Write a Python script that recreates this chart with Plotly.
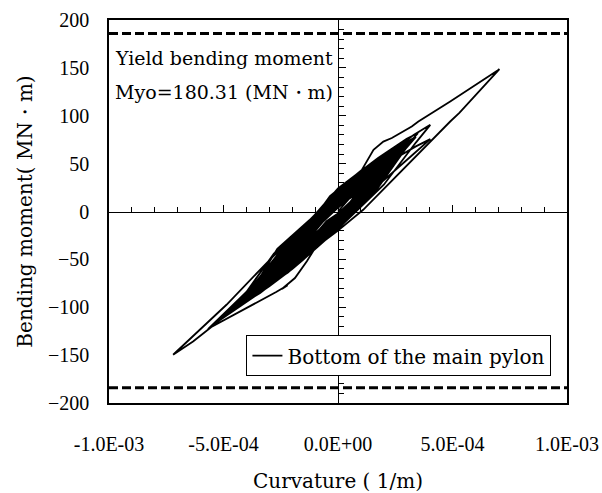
import numpy as np
import plotly.graph_objects as go

# Hysteresis path:
# curvature in units of 1e-4 (1/m), bending moment in MN·m (one row per half-cycle)
curvature_e4 = [
    0, 0.8, 1.6,
    0.8, 0, -1.1, -2.2,
    -1.1, 0, 1.3, 2.6,
    1.3, 0, -1.65, -3.3,
    -1.65, 0, 1.7, 3.4,
    1.7, 0, -2.1, -4.2,
    -2.1, 0, 2.0, 3.3, 4.03,
    3.4, 2.0, 0, -1.5, -3.4, -4.8, -5.68,
    -4.0, -2.8, -1.4, 0, 1.75, 3.0, 3.5,
    2.0, 1.0, 0, -0.92, -1.36, -1.88, -2.45, -2.2, -2.7, -5.53, -6.33, -7.2,
    -4.87, -2.98, -0.8, 0, 1.6, 2.4, 3.4, 4.03,
    3.2, 1.5, 0, -2.4, -4.8,
    -3.2, -1.5, -0.35, 1.04, 1.55, 1.98, 2.35, 3.22, 3.51, 4.9, 7.05,
    5.5, 5.3, 4.9, 1.1, 0, -1.0, -1.5, -2.0, -3.0, -4.2, -5.2,
    -3.8, -2.6, -1.3, 0, 1.65, 3.3,
    1.65, 0, -2.25, -4.5,
    -2.25, 0, 1.5, 3.0,
    1.5, 0, -2.5, -3.8, -5.0,
    -3.4, -2.5, -1.25, 0, 1.3, 2.6,
    1.3, 0, -2.0, -4.0,
    -2.0, -1.0, 0, 1.6, 3.2,
    1.6, 0, -2.3, -3.5, -4.6,
    -2.3, 0, 1.2, 2.4,
    1.2, 0, -1.8, -3.6,
    -1.8, 0, 1.4, 2.8,
    1.4, 0, -2.1, -4.2,
    -2.1, 0, 1.0, 2.0,
    1.0, 0, -1.6, -3.2,
    -1.6, 0, 1.25, 2.5,
    1.25, 0, -1.9, -3.8,
    -1.9, 0, 0.9, 1.8,
    0.9, 0, -1.4, -2.8,
    -1.4, 0, 1.1, 2.2,
    1.1, 0, -1.5, -3.0,
    -1.5, 0, 0.75, 1.5,
    0.75, 0, -1.1, -2.2,
    -1.1, 0, 1.45, 2.9,
    1.45, 0, -2.2, -3.4, -4.4,
    -3.0, -2.2, -1.1, 0, 1.35, 2.7,
    1.35, 0, -1.95, -3.9,
    -1.95, 0, 1.55, 3.1,
    1.55, 0, -2.5, -3.8, -5.0,
    -3.6, -2.5, -1.25, 0, 1.5, 3.0,
    1.5, 0, -2.65, -4.2, -5.3,
    -3.8, -2.65, -1.3, 0, 1.15, 2.3,
    1.15, 0, -2.0, -4.0,
    -2.0, 0, 1.3, 2.6,
    1.3, 0, -2.35, -3.6, -4.7,
    -3.2, -2.35, -1.2, 0, 1.0, 2.0,
    1.0, 0, -1.7, -3.4,
    -1.7, 0, 1.1, 2.2,
    1.1, 0, -2.05, -4.1,
    -2.05, -1.0, 0, 1.45, 2.9,
    1.45, 0, -1.5, -3.0,
    -1.5, 0, 1.2, 2.4,
    1.2, 0, -1.1, -2.2,
    -1.1, 0, 0.7, 1.4,
    0.7, 0, -0.6, -1.2,
    -0.6, 0,
    # inner cycles close to the centre line
    0.5, 1.0,
    0.5, 0, -0.6, -1.2,
    -0.6, 0, 0.8, 1.6,
    0.8, 0, -0.9, -1.8,
    -0.9, 0, 1.1, 2.2,
    1.1, 0, -1.2, -2.5,
    -1.2, 0, 1.4, 2.8,
    1.4, 0, -1.6, -3.3,
    -1.6, 0, 1.7, 3.4,
    1.7, 0, -2.0, -4.2,
    -3.8, -2.0, 0, 1.6, 3.3,
    1.8, 0, -2.2, -4.5,
    -3.0, -1.2, 0, 1.5, 3.0,
    1.6, 0, -2.4, -3.8, -5.0,
    -3.4, -1.4, 0, 1.3, 2.6,
    1.3, 0, -2.0, -4.0,
    -2.6, -1.0, 0, 1.6, 3.2,
    1.6, 0, -2.3, -4.6,
    -3.0, -1.2, 0, 1.2, 2.4,
    1.2, 0, -1.8, -3.6,
    -2.2, 0, 1.4, 2.8,
    1.4, 0, -2.1, -4.2,
    -2.6, -1.0, 0, 1.0, 2.0,
    1.0, 0, -1.6, -3.2,
    -1.8, 0, 1.2, 2.5,
    1.2, 0, -1.9, -3.8,
    -2.2, -0.8, 0, 0.9, 1.8,
    0.9, 0, -1.4, -2.8,
    -1.4, 0, 1.1, 2.2,
    1.1, 0, -1.5, -3.0,
    -1.5, 0, 0.8, 1.5,
    0.8, 0, -1.1, -2.2,
    -1.1, 0, 0.9, 1.7,
    0.9, 0, -1.2, -2.5,
    -1.2, 0, 0.6, 1.2,
    0.6, 0, -0.8, -1.6,
    -0.8, 0, 0.4, 0.8,
    0.4, 0, -0.5, -1.0,
    -0.5, 0,
]
moment = [
    0, 22, 36,
    11, -8, -31, -50,
    -6, 18, 42, 60,
    15, -16, -51, -72,
    -20, 22, 54, 78,
    31, -6, -50, -92,
    -30, 14, 54, 80, 90.5,
    72, 28, -18, -49.5, -85, -106, -122.8,
    -84, -44, -14, 24, 56, 76, 82,
    42, 16, -18, -35, -52, -69.5, -81, -77, -84, -120.7, -135.7, -149.6,
    -97.4, -50.4, 1, 19, 44, 54, 68, 75.6,
    58, 22, -12, -62, -104,
    -64, -22, 16, 43.5, 64.4, 73, 76.7, 88.8, 94, 115, 148.6,
    109, 103, 94, 1.8, -20, -38, -50, -60, -78, -98, -114,
    -80, -44, -11, 20, 51, 76,
    27, -10, -57, -98,
    -37, 10, 40, 70,
    21, -14, -66, -90, -110,
    -72, -40, -10, 16, 40, 60,
    24, -4, -46, -88,
    -28, -4, 23, 52, 74,
    20, -17, -65, -84, -100,
    -40, 8, 32, 56,
    19, -8, -46, -80,
    -24, 19, 45, 66,
    19, -13, -57, -92,
    -31, 13, 32, 48,
    7, -18, -52, -72,
    -28, 6, 31, 58,
    22, -6, -46, -84,
    -25, 21, 36, 44,
    18, -2, -31, -62,
    -14, 15, 36, 52,
    15, -11, -43, -68,
    -20, 11, 25, 36,
    4, -15, -38, -50,
    -8, 24, 50, 66,
    16, -18, -64, -82, -96,
    -62, -33, -7, 18, 43, 64,
    25, -5, -46, -86,
    -29, 12, 42, 72,
    20, -16, -68, -90, -108,
    -78, -40, -10, 22, 50, 74,
    25, -9, -65, -96, -116,
    -84, -39, -10, 17, 38, 58,
    11, -17, -59, -90,
    -33, 9, 35, 62,
    18, -12, -61, -84, -104,
    -68, -37, -9, 20, 37, 54,
    19, -3, -39, -80,
    -22, 14, 35, 54,
    12, -14, -57, -94,
    -29, -4, 23, 49, 70,
    25, -7, -39, -70,
    -24, 7, 31, 60,
    18, -10, -33, -54,
    -7, 16, 28, 36,
    12, -4, -17, -28,
    -6, 4,
    # inner cycles close to the centre line
    14, 24,
    8, -4, -17, -26,
    -9, 6, 22, 36,
    14, -6, -26, -40,
    -15, 9, 30, 50,
    20, -8, -34, -56,
    -20, 12, 40, 62,
    26, -10, -44, -72,
    -26, 15, 52, 78,
    34, -13, -56, -92,
    -80, -36, 16, 48, 76,
    36, -12, -56, -98,
    -58, -14, 14, 44, 70,
    32, -14, -62, -88, -110,
    -70, -20, 12, 38, 60,
    24, -10, -52, -88,
    -52, -10, 16, 50, 74,
    30, -16, -60, -100,
    -60, -16, 10, 34, 56,
    22, -8, -46, -80,
    -44, 14, 44, 66,
    26, -14, -56, -92,
    -52, -12, 10, 30, 48,
    18, -8, -42, -72,
    -36, 12, 38, 58,
    22, -12, -50, -84,
    -44, -6, 10, 28, 44,
    16, -6, -36, -62,
    -26, 10, 32, 52,
    20, -10, -40, -68,
    -28, 8, 24, 36,
    14, -6, -30, -50,
    -20, 8, 26, 40,
    16, -8, -34, -56,
    -20, 6, 18, 28,
    10, -4, -22, -38,
    -14, 4, 12, 18,
    6, -2, -14, -24,
    -10, -2,
]

# Yield bending moment reference lines (dashed)
yield_lines = [186, -184]
yield_x = [-1.0e-3, 1.0e-3]

x_range = [-1.0e-3, 1.0e-3]
y_range = [-200, 200]
x_tick_vals = [-1.0e-3, -5.0e-4, 0.0, 5.0e-4, 1.0e-3]
x_tick_text = ["-1.0E-03", "-5.0E-04", "0.0E+00", "5.0E-04", "1.0E-03"]
y_tick_vals = [-200, -150, -100, -50, 0, 50, 100, 150, 200]

curvature = np.array(curvature_e4) * 1e-4

SERIF = "DejaVu Serif, Liberation Serif, serif"
TIMES = "Liberation Serif, Times New Roman, serif"

fig = go.Figure()
fig.add_trace(go.Scatter(
    x=curvature, y=moment, mode="lines",
    line=dict(color="black", width=1.8),
    name="Bottom of the main pylon",
))
for yv in yield_lines:
    fig.add_trace(go.Scatter(
        x=yield_x, y=[yv, yv], mode="lines",
        line=dict(color="black", width=3, dash="9px,4px"),
        showlegend=False, hoverinfo="skip",
        xaxis="x2", yaxis="y2",
    ))

fig.add_annotation(x=-5.0e-4, y=160, xref="x", yref="y", text="Yield bending moment",
                   showarrow=False, font=dict(family=SERIF, size=19, color="black"))
fig.add_annotation(x=-5.0e-4, y=125, xref="x", yref="y", text="Myo=180.31 (MN・m)",
                   showarrow=False, font=dict(family=SERIF, size=19, color="black"))

fig.update_layout(
    width=602, height=493,
    margin=dict(l=109, r=35, t=20, b=90),
    paper_bgcolor="white", plot_bgcolor="white",
    xaxis=dict(
        range=x_range, tickvals=x_tick_vals, ticktext=x_tick_text,
        showline=True, mirror=True, linecolor="black", linewidth=1.5,
        ticks="", showgrid=False, zeroline=False, automargin=False,
        tickfont=dict(family=TIMES, size=20, color="black"),
        ticklabelstandoff=22,
        title=dict(text="Curvature ( 1/m)", font=dict(family=SERIF, size=20, color="black"), standoff=21),
    ),
    yaxis=dict(
        range=y_range, tickvals=y_tick_vals,
        showline=True, mirror=True, linecolor="black", linewidth=1.5,
        ticks="", showgrid=False, zeroline=False, automargin=False,
        tickfont=dict(family=TIMES, size=20, color="black"),
        ticklabelstandoff=14,
        title=dict(text="Bending moment( MN・m)", font=dict(family=SERIF, size=20, color="black"), standoff=10),
    ),
    xaxis2=dict(
        overlaying="x", anchor="free", position=0.5, range=x_range,
        showline=True, linecolor="black", linewidth=1,
        ticks="inside", ticklen=7, tickwidth=1, tickcolor="black",
        tick0=0, dtick=5.0e-4, showticklabels=False, showgrid=False, zeroline=False,
        minor=dict(ticks="inside", ticklen=5, tickwidth=1, tickcolor="black", tick0=0, dtick=1.0e-4, showgrid=False),
    ),
    yaxis2=dict(
        overlaying="y", anchor="free", position=0.5, side="left", range=y_range,
        showline=True, linecolor="black", linewidth=1,
        ticks="inside", ticklen=7, tickwidth=1, tickcolor="black",
        tick0=0, dtick=50, showticklabels=False, showgrid=False, zeroline=False,
        minor=dict(ticks="inside", ticklen=5, tickwidth=1, tickcolor="black", tick0=0, dtick=10, showgrid=False),
    ),
    legend=dict(
        x=0.966, xanchor="right", y=0.07, yanchor="bottom",
        bgcolor="white", bordercolor="black", borderwidth=1,
        font=dict(family=SERIF, size=20, color="black"),
    ),
    showlegend=True,
)

fig.write_html("out.html")
